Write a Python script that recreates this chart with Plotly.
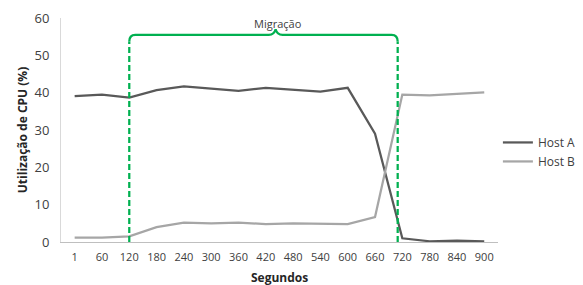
import plotly.graph_objects as go

categories = ["1", "60", "120", "180", "240", "300", "360", "420", "480", "540",
              "600", "660", "720", "780", "840", "900"]
host_a = [39.1, 39.5, 38.7, 40.7, 41.7, 41.0, 40.5, 41.3, 40.7, 40.3, 41.3, 29.0,
          1.0, 0.2, 0.4, 0.2]
host_b = [1.2, 1.2, 1.5, 4.0, 5.2, 5.0, 5.2, 4.8, 5.0, 4.8, 4.8, 6.7, 39.5, 39.3,
          39.7, 40.1]
y_ticks = [0, 10, 20, 30, 40, 50, 60]

# migration bracket (category index / data units)
mig_start = 2.0
mig_end = 11.83
mig_tip = 7.36
mig_y = 55.5
mig_tip_y = 57.0
mig_corner_y = 53.7
mig_label = "Migração"

idx = list(range(len(categories)))
FONT = "Open Sans"
GREEN = "#00B050"

fig = go.Figure()
fig.add_trace(go.Scatter(x=idx, y=host_a, mode="lines", name="Host A",
                         line=dict(color="#595959", width=2.25)))
fig.add_trace(go.Scatter(x=idx, y=host_b, mode="lines", name="Host B",
                         line=dict(color="#A6A6A6", width=2.25)))

rx = 0.22
path = (f"M {mig_start},{mig_corner_y} Q {mig_start},{mig_y} {mig_start+rx},{mig_y} "
        f"L {mig_tip-0.25},{mig_y} Q {mig_tip-0.05},{mig_y} {mig_tip},{mig_tip_y} "
        f"Q {mig_tip+0.05},{mig_y} {mig_tip+0.25},{mig_y} "
        f"L {mig_end-rx},{mig_y} Q {mig_end},{mig_y} {mig_end},{mig_corner_y}")
shapes = [
    dict(type="path", path=path, xref="x", yref="y",
         line=dict(color=GREEN, width=2.25)),
    dict(type="line", x0=mig_start, x1=mig_start, y0=0, y1=mig_corner_y,
         xref="x", yref="y", line=dict(color=GREEN, width=2.25, dash="6px,3px")),
    dict(type="line", x0=mig_end, x1=mig_end, y0=0, y1=mig_corner_y,
         xref="x", yref="y", line=dict(color=GREEN, width=2.25, dash="6px,3px")),
]

# page body has an 8px default margin, so the figure is sized to fit after it
fig.update_layout(
    width=575, height=277,
    margin=dict(l=53, r=83, t=10, b=43),
    paper_bgcolor="white", plot_bgcolor="white",
    font=dict(family=FONT, size=12, color="#404040"),
    shapes=shapes,
    annotations=[
        dict(x=mig_tip + 0.1, y=58.6, xref="x", yref="y", text=mig_label,
             showarrow=False, font=dict(size=11, color="#404040", family=FONT),
             yanchor="middle", xanchor="center"),
        dict(x=0.5, y=-0.158, xref="paper", yref="paper", text="<b>Segundos</b>",
             showarrow=False, font=dict(size=12, color="#262626", family=FONT),
             yanchor="middle", xanchor="center"),
    ],
    showlegend=True,
    legend=dict(x=0.852, y=0.567, xref="container", yref="container",
                xanchor="left", yanchor="top",
                font=dict(size=12, color="#404040"), tracegroupgap=2,
                bgcolor="rgba(0,0,0,0)"),
    xaxis=dict(tickmode="array", tickvals=idx, ticktext=categories,
               range=[-0.5, len(categories) - 0.5], showgrid=False, zeroline=False,
               showline=True, linecolor="#BFBFBF", linewidth=1, ticks="",
               automargin=False, ticklabelstandoff=5,
               tickfont=dict(size=11, color="#404040")),
    yaxis=dict(range=[0, 60], tickvals=y_ticks, showgrid=False, zeroline=False,
               showline=True, linecolor="#D9D9D9", linewidth=1, ticks="",
               ticklabelstandoff=8, automargin=False,
               tickfont=dict(size=13, color="#404040"),
               title=dict(text="<b>Utilização de CPU (%)</b>",
                          font=dict(size=12, color="#262626"), standoff=4)),
)

fig.write_html("out.html")
